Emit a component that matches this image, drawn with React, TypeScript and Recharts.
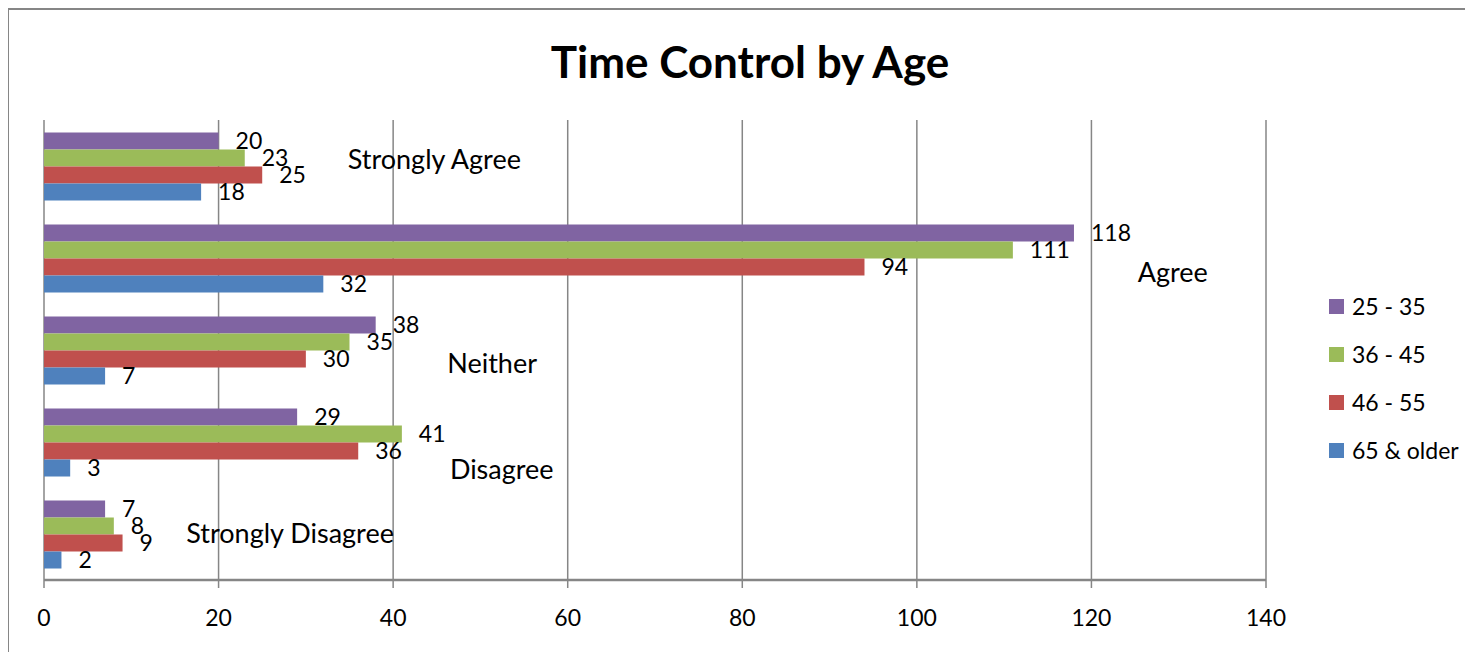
import { BarChart, Bar, XAxis, YAxis, CartesianGrid, Legend, LabelList, ReferenceDot } from "recharts"

const categories = ["Strongly Agree", "Agree", "Neither", "Disagree", "Strongly Disagree"]
const age25to35 = [20, 118, 38, 29, 7]
const age36to45 = [23, 111, 35, 41, 8]
const age46to55 = [25, 94, 30, 36, 9]
const age65plus = [18, 32, 7, 3, 2]
const xTicks = [0, 20, 40, 60, 80, 100, 120, 140]

const series = [
  { key: "a", name: "25 - 35", color: "#8064A2" },
  { key: "b", name: "36 - 45", color: "#9BBB59" },
  { key: "c", name: "46 - 55", color: "#C0504D" },
  { key: "d", name: "65 & older", color: "#4F81BD" },
]

const data = categories.map((cat, i) => ({
  cat,
  a: age25to35[i],
  b: age36to45[i],
  c: age46to55[i],
  d: age65plus[i],
}))

// where excel left the category-name labels (x in axis units, dy in px)
const catLabelPos = [
  { x: 34.8, dy: -6 },
  { x: 125.3, dy: 15 },
  { x: 46.2, dy: 14 },
  { x: 46.5, dy: 28 },
  { x: 16.3, dy: 0 },
]

const font = "Lato, 'Open Sans', sans-serif"
const grey = "#868686"

function CatLabel(props: any) {
  const { viewBox, value, dy } = props
  const x = viewBox.x + viewBox.width / 2
  const y = viewBox.y + viewBox.height / 2 + dy
  return (
    <text x={x} y={y} dy="0.35em" textAnchor="start" fontSize={27} fontFamily={font} fill="#000">
      {value}
    </text>
  )
}

function LegendBox({ payload }: any) {
  return (
    <div>
      {(payload || []).map((p: any) => (
        <div key={p.value} style={{ display: "flex", alignItems: "center", height: 48 }}>
          <span style={{ width: 15, height: 15, background: p.color, display: "inline-block", marginRight: 8 }} />
          <span style={{ fontSize: 23, fontFamily: font, color: "#000", whiteSpace: "nowrap" }}>{p.value}</span>
        </div>
      ))}
    </div>
  )
}

export default function App() {
  return (
    <div style={{ position: "relative", margin: -8, width: 1473, height: 660, overflow: "hidden", background: "#fff", fontFamily: font }}>
      <div style={{ position: "absolute", left: 7, top: 8, width: 1520, height: 720, borderTop: `2px solid ${grey}`, borderLeft: `2px solid ${grey}` }} />
      <div style={{ position: "absolute", left: 0, top: 35, width: 1500, textAlign: "center", fontSize: 44, fontWeight: 700, color: "#000" }}>
        Time Control by Age
      </div>
      <div style={{ position: "absolute", left: 0, top: 0 }}>
        <BarChart
          width={1473}
          height={660}
          data={data}
          layout="vertical"
          margin={{ top: 120, right: 62, bottom: 0, left: 44 }}
          barCategoryGap="13.6%"
          barGap={0}
        >
          <CartesianGrid horizontal={false} stroke={grey} strokeWidth={1.5} />
          <XAxis
            type="number"
            domain={[0, 140]}
            ticks={xTicks}
            height={80}
            axisLine={{ stroke: grey, strokeWidth: 2.5 }}
            tickLine={{ stroke: grey, strokeWidth: 1.5 }}
            tickSize={8}
            tickMargin={22}
            tick={{ fontSize: 23, fill: "#000", fontFamily: font }}
            interval={0}
          />
          <YAxis type="category" dataKey="cat" hide />
          <Legend
            layout="vertical"
            align="right"
            verticalAlign="top"
            content={<LegendBox />}
            wrapperStyle={{ left: 1329, top: 282, width: 145 }}
          />
          {series.map((s) => (
            <Bar key={s.key} dataKey={s.key} name={s.name} fill={s.color} isAnimationActive={false}>
              <LabelList dataKey={s.key} position="right" offset={17} fontSize={23} fill="#000" fontFamily={font} />
            </Bar>
          ))}
          {categories.map((cat, i) => (
            <ReferenceDot
              key={cat}
              x={catLabelPos[i].x}
              y={cat}
              r={0}
              fill="none"
              stroke="none"
              label={<CatLabel value={cat} dy={catLabelPos[i].dy} />}
            />
          ))}
        </BarChart>
      </div>
    </div>
  )
}
